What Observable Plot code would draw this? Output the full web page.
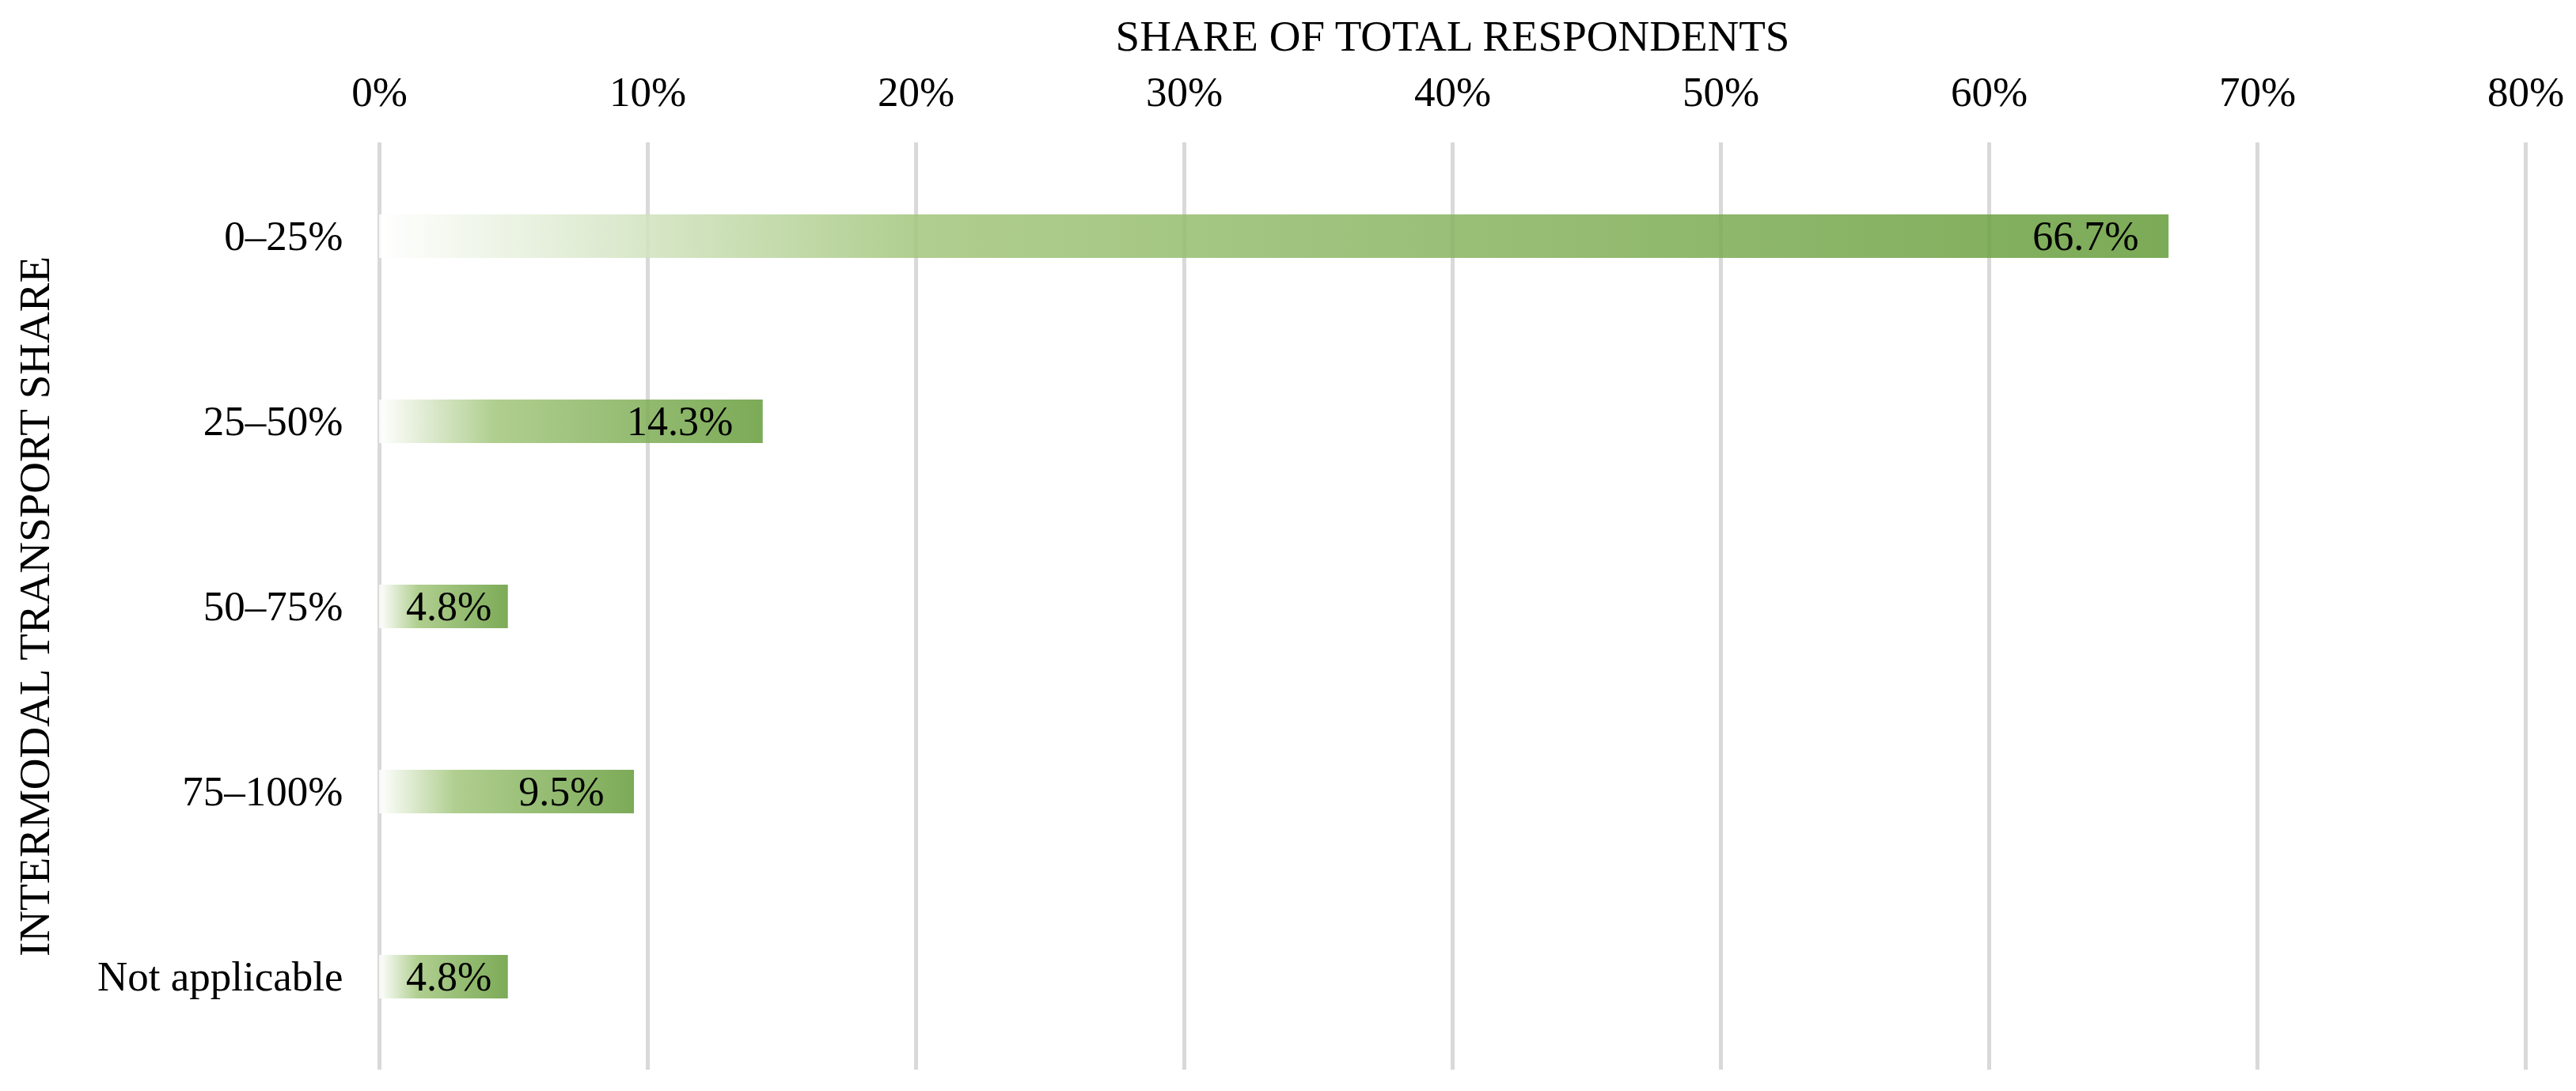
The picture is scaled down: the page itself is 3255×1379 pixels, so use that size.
<!DOCTYPE html>
<html><head><meta charset="utf-8">
<script src="https://cdn.jsdelivr.net/npm/d3@7"></script>
<script src="https://cdn.jsdelivr.net/npm/@observablehq/plot@0.6"></script>
<style>
html,body{margin:0;padding:0;background:#fff;}
#chart{width:3255px;height:1379px;}
</style></head><body><div id="chart"></div>
<script>
const categories = ["0–25%", "25–50%", "50–75%", "75–100%", "Not applicable"];
const shares = [66.7, 14.3, 4.8, 9.5, 4.8];
const xTicks = [0, 10, 20, 30, 40, 50, 60, 70, 80];
const xTitle = "SHARE OF TOTAL RESPONDENTS";
const yTitle = "INTERMODAL TRANSPORT SHARE";

const data = categories.map((c, i) => ({category: c, share: shares[i]}));
const fmt = d => d.share.toFixed(1) + "%";

const defs = () => {
  const ns = "http://www.w3.org/2000/svg";
  const d = document.createElementNS(ns, "defs");
  d.innerHTML = `<linearGradient id="barGrad" x1="0" y1="0" x2="1" y2="0">
    <stop offset="0" stop-color="#ffffff"/>
    <stop offset="0.3" stop-color="#a2c67c"/>
    <stop offset="1" stop-color="#659c3a"/>
  </linearGradient>`;
  return d;
};

const font = "'Palatino Linotype', 'Book Antiqua', Palatino, 'Liberation Serif', serif";

const plot = Plot.plot({
  width: 3255, height: 1379,
  marginLeft: 479, marginRight: 64, marginTop: 180, marginBottom: 27,
  style: {fontFamily: font, fontSize: "52px", color: "#000", background: "#fff"},
  x: {domain: [0, 80], label: null},
  y: {domain: categories, paddingInner: 0.765, paddingOuter: 0.3825, label: null},
  marks: [
    defs,
    Plot.gridX(xTicks, {stroke: "#d9d9d9", strokeOpacity: 1, strokeWidth: 5}),
    Plot.barX(data, {x: "share", y: "category", fill: "url(#barGrad)", fillOpacity: 0.85}),
    Plot.axisX(xTicks, {anchor: "top", tickSize: 0, tickPadding: 47, tickFormat: d => d + "%", label: null, fill: "#000", fontSize: 53}),
    Plot.axisY({anchor: "left", tickSize: 0, tickPadding: 46, label: null, fill: "#000", fontSize: 53}),
    Plot.text(data.filter(d => d.share >= 8), {x: "share", y: "category", text: fmt, textAnchor: "end", dx: -38, fill: "#000"}),
    Plot.text(data.filter(d => d.share < 8), {x: "share", y: "category", text: fmt, textAnchor: "end", dx: -21, fill: "#000"}),
    Plot.text([xTitle], {frameAnchor: "top", lineAnchor: "bottom", dy: -117, fontSize: 55, fill: "#000"}),
    Plot.text([yTitle], {frameAnchor: "left", textAnchor: "middle", lineAnchor: "middle", rotate: -90, dx: -435, fontSize: 55, fill: "#000"})
  ]
});
document.getElementById("chart").appendChild(plot);
</script>
</body></html>
